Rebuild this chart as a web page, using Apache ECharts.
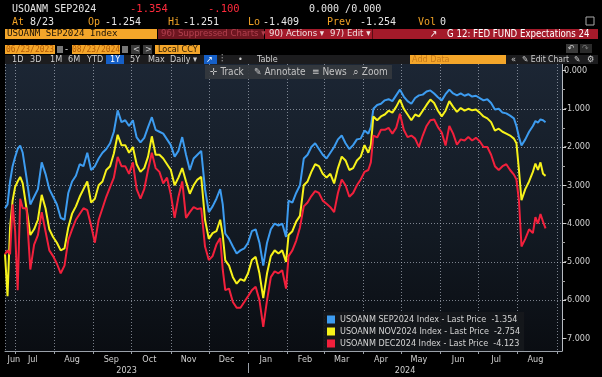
<!DOCTYPE html>
<html>
<head>
<meta charset="utf-8">
<script src="https://cdn.jsdelivr.net/npm/echarts@6/dist/echarts.min.js"></script>
<style>
  html, body { margin: 0; padding: 0; background: #000; }
  #chart { width: 602px; height: 377px; }
</style>
</head>
<body>
<div id="chart"></div>
<script>
const dates = [
  '2023-06-23','2023-06-25','2023-06-27','2023-06-29','2023-07-01','2023-07-03','2023-07-05','2023-07-07','2023-07-10','2023-07-13','2023-07-16','2023-07-19','2023-07-22','2023-07-25','2023-07-28','2023-07-31',
  '2023-08-03','2023-08-06','2023-08-09','2023-08-12','2023-08-15','2023-08-18','2023-08-21','2023-08-24','2023-08-27','2023-08-30',
  '2023-09-02','2023-09-05','2023-09-08','2023-09-11','2023-09-14','2023-09-17','2023-09-20','2023-09-23','2023-09-26','2023-09-29',
  '2023-10-02','2023-10-05','2023-10-08','2023-10-11','2023-10-14','2023-10-17','2023-10-20','2023-10-23','2023-10-26','2023-10-29',
  '2023-11-01','2023-11-04','2023-11-07','2023-11-10','2023-11-13','2023-11-16','2023-11-19','2023-11-22','2023-11-25','2023-11-28',
  '2023-12-01','2023-12-04','2023-12-07','2023-12-10','2023-12-12','2023-12-14','2023-12-17','2023-12-20','2023-12-23','2023-12-26','2023-12-29',
  '2024-01-01','2024-01-04','2024-01-07','2024-01-10','2024-01-13','2024-01-16','2024-01-19','2024-01-22','2024-01-25','2024-01-28','2024-01-31',
  '2024-02-02','2024-02-05','2024-02-08','2024-02-11','2024-02-14','2024-02-17','2024-02-20','2024-02-23','2024-02-26','2024-02-29',
  '2024-03-03','2024-03-06','2024-03-09','2024-03-12','2024-03-15','2024-03-18','2024-03-21','2024-03-24','2024-03-27','2024-03-30',
  '2024-04-02','2024-04-05','2024-04-07','2024-04-09','2024-04-12','2024-04-15','2024-04-18','2024-04-21','2024-04-24','2024-04-27','2024-04-30',
  '2024-05-03','2024-05-06','2024-05-09','2024-05-12','2024-05-15','2024-05-18','2024-05-21','2024-05-24','2024-05-27','2024-05-30',
  '2024-06-02','2024-06-05','2024-06-08','2024-06-11','2024-06-14','2024-06-17','2024-06-20','2024-06-23','2024-06-26','2024-06-29',
  '2024-07-02','2024-07-05','2024-07-08','2024-07-11','2024-07-14','2024-07-17','2024-07-20','2024-07-23','2024-07-26','2024-07-29','2024-07-31',
  '2024-08-02','2024-08-04','2024-08-07','2024-08-10','2024-08-13','2024-08-15','2024-08-17','2024-08-19','2024-08-21','2024-08-23'
];

const sep2024 = [
  -3.6,-3.5,-2.9,-2.5,-2.26,-2.05,-1.96,-2.15,-2.8,-3.5,-3.3,-3.1,-2.4,-2.7,-3.1,-3.3,
  -3.5,-3.85,-3.9,-3.2,-2.9,-2.75,-2.45,-2.5,-2.15,-2.6,
  -2.5,-2.3,-2.15,-2.05,-1.9,-1.6,-1.04,-1.35,-1.3,-1.45,
  -1.3,-1.75,-1.88,-1.76,-1.48,-1.22,-1.55,-1.6,-1.65,-1.8,
  -1.95,-2.25,-2.1,-1.74,-2.2,-2.6,-2.3,-2.2,-2.1,-3.1,
  -3.7,-3.55,-3.35,-3.1,-3.5,-4.26,-4.4,-4.6,-4.78,-4.7,-4.65,
  -4.5,-4.2,-4.15,-4.5,-5.1,-4.5,-4.15,-4.0,-4.05,-4.0,-4.35,
  -3.4,-3.45,-3.2,-3.0,-2.3,-2.2,-2.0,-1.9,-2.05,-2.2,
  -2.3,-2.15,-2.0,-1.8,-1.7,-1.9,-2.05,-1.95,-1.8,-1.78,
  -1.57,-1.65,-1.48,-1.0,-0.9,-0.87,-0.78,-0.75,-0.8,-0.65,-0.5,
  -0.68,-0.8,-0.87,-0.72,-0.65,-0.63,-0.55,-0.52,-0.6,-0.7,
  -0.78,-0.62,-0.5,-0.6,-0.65,-0.6,-0.66,-0.62,-0.68,-0.66,
  -0.72,-0.78,-0.75,-0.85,-1.02,-1.0,-1.1,-1.12,-1.18,-1.25,-1.45,
  -1.74,-1.96,-1.8,-1.6,-1.45,-1.32,-1.36,-1.28,-1.3,-1.354
];

const nov2024 = [
  -4.8,-5.9,-4.1,-3.4,-3.04,-2.9,-2.78,-2.95,-3.6,-4.3,-4.15,-3.9,-3.25,-3.6,-4.15,-4.35,
  -4.5,-4.7,-4.65,-4.1,-3.74,-3.55,-3.3,-3.1,-2.9,-3.45,
  -3.35,-3.0,-2.9,-2.6,-2.5,-2.17,-1.68,-1.95,-1.95,-2.15,
  -2.0,-2.45,-2.65,-2.55,-2.25,-1.72,-2.2,-2.2,-2.3,-2.45,
  -2.6,-3.0,-2.8,-2.55,-2.9,-3.22,-3.0,-2.85,-2.78,-3.9,
  -4.4,-4.25,-4.2,-3.9,-4.3,-4.96,-5.1,-5.4,-5.57,-5.45,-5.5,
  -5.3,-4.95,-4.87,-5.3,-5.95,-5.3,-4.85,-4.7,-4.78,-4.7,-5.0,
  -4.3,-4.2,-3.95,-3.8,-3.0,-2.9,-2.65,-2.45,-2.5,-2.7,
  -2.8,-2.7,-2.95,-2.55,-2.25,-2.35,-2.6,-2.55,-2.35,-2.25,
  -1.95,-2.15,-1.95,-1.2,-1.3,-1.2,-1.15,-1.05,-1.1,-0.95,-0.76,
  -1.0,-1.15,-1.3,-1.15,-1.2,-1.05,-0.9,-0.76,-0.85,-1.05,
  -1.2,-1.05,-0.8,-0.95,-1.08,-0.98,-1.05,-1.0,-1.04,-1.02,
  -1.1,-1.2,-1.25,-1.35,-1.57,-1.52,-1.6,-1.65,-1.7,-1.78,-1.9,
  -2.6,-3.39,-3.1,-2.9,-2.65,-2.43,-2.6,-2.4,-2.7,-2.754
];

const dec2024 = [
  -4.8,-4.7,-4.8,-3.5,-4.2,-5.74,-3.35,-3.6,-3.6,-5.2,-4.55,-4.3,-3.7,-4.2,-4.7,-4.85,
  -5.05,-5.3,-5.1,-4.43,-4.15,-3.9,-3.75,-3.6,-3.65,-4.05,
  -4.5,-3.9,-3.6,-3.3,-3.05,-2.8,-2.26,-2.5,-2.5,-2.7,
  -2.4,-3.1,-3.35,-3.1,-2.6,-2.15,-2.55,-2.65,-2.95,-2.8,
  -3.25,-3.85,-3.3,-2.9,-3.85,-3.7,-3.57,-3.62,-3.6,-4.6,
  -4.95,-4.85,-4.55,-4.38,-5.2,-5.74,-5.7,-6.05,-6.2,-6.2,-6.05,
  -5.9,-5.74,-5.65,-6.0,-6.7,-6.0,-5.4,-5.25,-5.3,-5.22,-5.7,
  -4.85,-4.7,-4.45,-4.1,-3.55,-3.45,-3.28,-3.15,-3.2,-3.4,
  -3.48,-3.57,-3.7,-3.2,-2.85,-3.0,-3.3,-3.2,-3.0,-2.85,
  -2.65,-2.6,-2.4,-1.7,-1.75,-1.55,-1.55,-1.5,-1.65,-1.5,-1.13,
  -1.55,-1.74,-1.7,-1.78,-2.0,-1.7,-1.45,-1.3,-1.28,-1.48,
  -1.62,-1.96,-1.45,-1.65,-1.94,-1.8,-1.83,-1.74,-1.83,-1.76,
  -1.85,-2.0,-2.0,-2.2,-2.5,-2.6,-2.5,-2.45,-2.6,-2.72,-2.85,
  -3.4,-4.6,-4.4,-4.15,-4.25,-3.83,-4.0,-3.75,-3.95,-4.123
];

const seriesNames = ['USOANM SEP2024', 'USOANM NOV2024', 'USOANM DEC2024'];
const seriesColors = ['#3d9cf0', '#f7f21a', '#f2203c'];
const tagText = ['#ffffff', '#000000', '#ffffff'];

// axis ticks / labels
const monthStarts = ['2023-07-01','2023-08-01','2023-09-01','2023-10-01','2023-11-01','2023-12-01','2024-01-01',
  '2024-02-01','2024-03-01','2024-04-01','2024-05-01','2024-06-01','2024-07-01','2024-08-01','2024-09-01'];
const monthLabelAt = ['2023-06-30','2023-07-15','2023-08-15','2023-09-15','2023-10-15','2023-11-15','2023-12-15',
  '2024-01-15','2024-02-15','2024-03-15','2024-04-15','2024-05-15','2024-06-15','2024-07-15','2024-08-15'];
const monthNames = ['Jan','Feb','Mar','Apr','May','Jun','Jul','Aug','Sep','Oct','Nov','Dec'];
const yearLabelAt = ['2023-09-27', '2024-05-04'];
const yearSplit = ['2024-01-01'];
const yTicks = [0, -1, -2, -3, -4, -5, -6, -7];
const yMinorTicks = [-0.5, -1.5, -2.5, -3.5, -4.5, -5.5, -6.5];

const ts = s => echarts.number.parseDate(s).getTime();
const F = "'DejaVu Sans Condensed','DejaVu Sans',sans-serif";
const M = "'DejaVu Sans Mono','Liberation Mono',monospace";
const GRID = 'rgba(190,197,210,0.62)';
const AX = '#9aa0a8';
const DAY = 86400000;
const X_MIN = ts('2023-06-23'), X_MAX = ts('2024-09-05');
const Y_MIN = -7.33, Y_MAX = 0.17;

function txt(x, y, s, fill, size, fam) {
  return {
    type: 'text', x: x, y: y, z: 110,
    style: { text: s, fill: fill, font: (size || 10) + 'px ' + (fam || F), verticalAlign: 'middle' }
  };
}
function box(x, y, w, h, fill, z) {
  return { type: 'rect', z: z || 105, shape: { x: x, y: y, width: w, height: h }, style: { fill: fill } };
}

const ORANGE = '#f0a226';
const WHITE = '#e6e6e6';
const graphics = [
  // quote lines
  txt(12, 9, 'USOANM SEP2024', WHITE, 10, M),
  txt(130, 9, '-1.354', '#ff2a3c', 10.5, M),
  txt(208, 9, '-.100', '#ff2a3c', 10.5, M),
  txt(309, 9, '0.000 /0.000', WHITE, 10, M),
  txt(12, 22, 'At', ORANGE, 10, M), txt(30, 22, '8/23', WHITE, 10, M),
  txt(88, 22, 'Op', ORANGE, 10, M), txt(105, 22, '-1.254', WHITE, 10, M),
  txt(168, 22, 'Hi', ORANGE, 10, M), txt(183, 22, '-1.251', WHITE, 10, M),
  txt(248, 22, 'Lo', ORANGE, 10, M), txt(263, 22, '-1.409', WHITE, 10, M),
  txt(327, 22, 'Prev', ORANGE, 10, M), txt(360, 22, '-1.254', WHITE, 10, M),
  txt(418, 22, 'Vol', ORANGE, 10, M), txt(440, 22, '0', WHITE, 10, M),
  { type: 'rect', z: 110, shape: { x: 586, y: 17, width: 8, height: 8 }, style: { fill: 'none', stroke: '#aaa', lineWidth: 1 } },
  // ticker / function bar
  box(5, 29, 152, 10, '#f4a62a'),
  txt(7, 34, 'USOANM SEP2024 Index', '#1a1208', 9.2, M),
  box(158, 29, 106, 10, '#6e1620'),
  txt(161, 34, '96) Suppressed Charts \u25BE', '#b2404e', 9.5),
  box(265, 29, 333, 10, '#a41a2a'),
  txt(269, 34, '90) Actions \u25BE', '#f0e0e0', 9.5),
  txt(330, 34, '97) Edit \u25BE', '#f0e0e0', 9.5),
  { type: 'rect', z: 110, shape: { x: 372, y: 29, width: 1, height: 10 }, style: { fill: '#5a0c14' } },
  txt(430, 34, '\u2197', '#ffffff', 10),
  txt(447, 34, 'G 12: FED FUND Expectations 24', '#ffffff', 9.6),
  // date range row
  box(5, 45, 50, 9, '#f4a62a'), txt(6, 49.5, '06/23/2023', '#b35a06', 8, M),
  box(57, 46, 6, 7, '#777'),
  txt(65, 49.5, '-', WHITE, 9.5),
  box(72, 45, 48, 9, '#f4a62a'), txt(72, 49.5, '08/23/2024', '#b35a06', 8, M),
  box(122, 46, 6, 7, '#777'),
  box(131, 45, 9, 9, '#3a3a3a'), txt(133, 49.5, '<', '#ccc', 9),
  box(143, 45, 9, 9, '#3a3a3a'), txt(145, 49.5, '>', '#ccc', 9),
  box(155, 45, 45, 9, '#f4a62a'), txt(158, 49.5, 'Local CCY', '#2a1a06', 9),
  box(566, 44, 12, 9, '#3a3a3a'), txt(568, 48.5, '\u21B6', '#ccc', 9),
  box(580, 44, 12, 9, '#2a2a2a'), txt(582, 48.5, '\u21B7', '#777', 9),
  // period row
  box(5, 55, 593, 9, '#1c1c1e', 104),
  txt(12, 59.5, '1D', '#cfcfcf', 9), txt(30, 59.5, '3D', '#cfcfcf', 9),
  txt(50, 59.5, '1M', '#cfcfcf', 9), txt(68, 59.5, '6M', '#cfcfcf', 9),
  txt(87, 59.5, 'YTD', '#cfcfcf', 9),
  box(106, 55, 18, 9, '#1660c8'), txt(110, 59.5, '1Y', '#ffffff', 9),
  txt(130, 59.5, '5Y', '#cfcfcf', 9), txt(148, 59.5, 'Max', '#cfcfcf', 9),
  txt(170, 59.5, 'Daily \u25BE', '#cfcfcf', 9),
  box(204, 55, 13, 9, '#1660c8'), txt(206, 59.5, '\u2197', '#ffffff', 9),
  txt(221, 59.5, '\u2AF6', '#cfcfcf', 9), txt(238, 59.5, '\u2022', '#cfcfcf', 9),
  txt(257, 59.5, 'Table', '#cfcfcf', 9),
  box(410, 55, 96, 9, '#f4a62a', 106), txt(412, 59.5, 'Add Data', '#c77a1a', 9),
  txt(511, 59.5, '\u00AB', '#cfcfcf', 9), txt(522, 59.5, '\u270E Edit Chart', '#cfcfcf', 8.5),
  txt(574, 59.5, '\u270E', '#cfcfcf', 8.5), txt(587, 59.5, '\u2699', '#cfcfcf', 9),
  // floating toolbar over the plot
  { type: 'rect', z: 108, shape: { x: 205, y: 65, width: 187, height: 14 }, style: { fill: 'rgba(52,56,62,0.92)' } },
  txt(210, 72, '\u271B Track', '#c4c4c4', 10),
  txt(254, 72, '\u270E Annotate', '#c4c4c4', 10),
  txt(312, 72, '\u2261 News', '#c4c4c4', 10),
  txt(353, 72, '\u2315 Zoom', '#c4c4c4', 10)
];

const lastVals = [sep2024, nov2024, dec2024].map(a => a[a.length - 1]);

const lineSeries = [sep2024, nov2024, dec2024].map((vals, k) => ({
  name: seriesNames[k],
  type: 'line',
  z: 3,
  showSymbol: false,
  symbol: 'none',
  color: seriesColors[k],
  lineStyle: { width: 2, color: seriesColors[k] },
  data: dates.map((d, i) => [ts(d), vals[i]]),
  markLine: {
    silent: true, symbol: ['none', 'none'],
    lineStyle: { opacity: 0 },
    data: [{ yAxis: lastVals[k] }],
    label: {
      position: 'end', distance: 2, fontSize: 9, fontFamily: F,
      color: tagText[k], backgroundColor: seriesColors[k], padding: [1, 3, 1, 3], borderRadius: 1,
      formatter: p => Number(p.value).toFixed(3)
    }
  }
}));

const chart = echarts.init(document.getElementById('chart'), null, { renderer: 'canvas' });
chart.setOption({
  animation: false,
  backgroundColor: '#000',
  textStyle: { fontFamily: F },
  grid: {
    left: 5, right: 40, top: 64, bottom: 26, show: true, borderWidth: 0,
    backgroundColor: new echarts.graphic.LinearGradient(0, 0, 0, 1, [
      { offset: 0, color: '#1c2634' }, { offset: 0.6, color: '#121922' }, { offset: 1, color: '#0a0d12' }
    ])
  },
  legend: {
    data: seriesNames,
    orient: 'vertical', left: 323, top: 312, itemWidth: 8, itemHeight: 8, itemGap: 3,
    icon: 'rect', padding: [3, 4, 3, 4], backgroundColor: 'rgba(22,24,28,0.92)',
    textStyle: { color: '#d4d4d4', fontSize: 9, fontFamily: F },
    formatter: name => name + ' Index - Last Price  ' + lastVals[seriesNames.indexOf(name)].toFixed(3),
    selectedMode: false
  },
  xAxis: [{
    type: 'value', min: X_MIN, max: X_MAX,
    axisLine: { show: true, onZero: false, lineStyle: { color: AX, width: 1 } },
    axisTick: { show: true, customValues: monthStarts.map(ts), length: 3, lineStyle: { color: AX } },
    axisLabel: {
      customValues: monthLabelAt.map(ts), color: '#d0d0d0', fontSize: 9, margin: 4,
      formatter: v => monthNames[new Date(v).getMonth()]
    },
    splitLine: { show: false }
  }, {
    type: 'value', min: X_MIN, max: X_MAX, position: 'bottom', offset: 12,
    axisLine: { show: false, onZero: false },
    axisTick: { show: true, customValues: yearSplit.map(ts), length: 10, lineStyle: { color: AX } },
    axisLabel: {
      customValues: yearLabelAt.map(ts), color: '#d0d0d0', fontSize: 9, margin: 3,
      formatter: v => String(new Date(v).getFullYear())
    },
    splitLine: { show: false }
  }, {
    // hidden monthly time axis, only for the dotted vertical gridlines at month starts
    type: 'time', min: X_MIN, max: X_MAX, position: 'top',
    minInterval: 28 * DAY, maxInterval: 31 * DAY,
    axisLine: { show: false }, axisTick: { show: false }, axisLabel: { show: false },
    splitLine: { show: true, lineStyle: { color: GRID, type: [1, 2], width: 1 } }
  }],
  yAxis: [{
    type: 'value', position: 'right', min: Y_MIN, max: Y_MAX,
    axisLine: { show: true, lineStyle: { color: '#b8bcc2' } },
    axisTick: { show: true, customValues: yTicks, length: 4, lineStyle: { color: '#d0d0d0' } },
    axisLabel: { customValues: yTicks, color: '#d0d0d0', fontSize: 9, margin: 2, formatter: v => v.toFixed(3) },
    splitLine: { show: true, showMinLine: false, showMaxLine: false, lineStyle: { color: GRID, type: [1, 2], width: 1 } }
  }, {
    type: 'value', position: 'right', min: Y_MIN, max: Y_MAX,
    axisLine: { show: false },
    axisTick: { show: true, customValues: yMinorTicks, length: 3, lineStyle: { color: '#a0a0a0' } },
    axisLabel: { show: false },
    splitLine: { show: false }
  }],
  series: lineSeries,
  graphic: graphics
});
</script>
</body>
</html>
